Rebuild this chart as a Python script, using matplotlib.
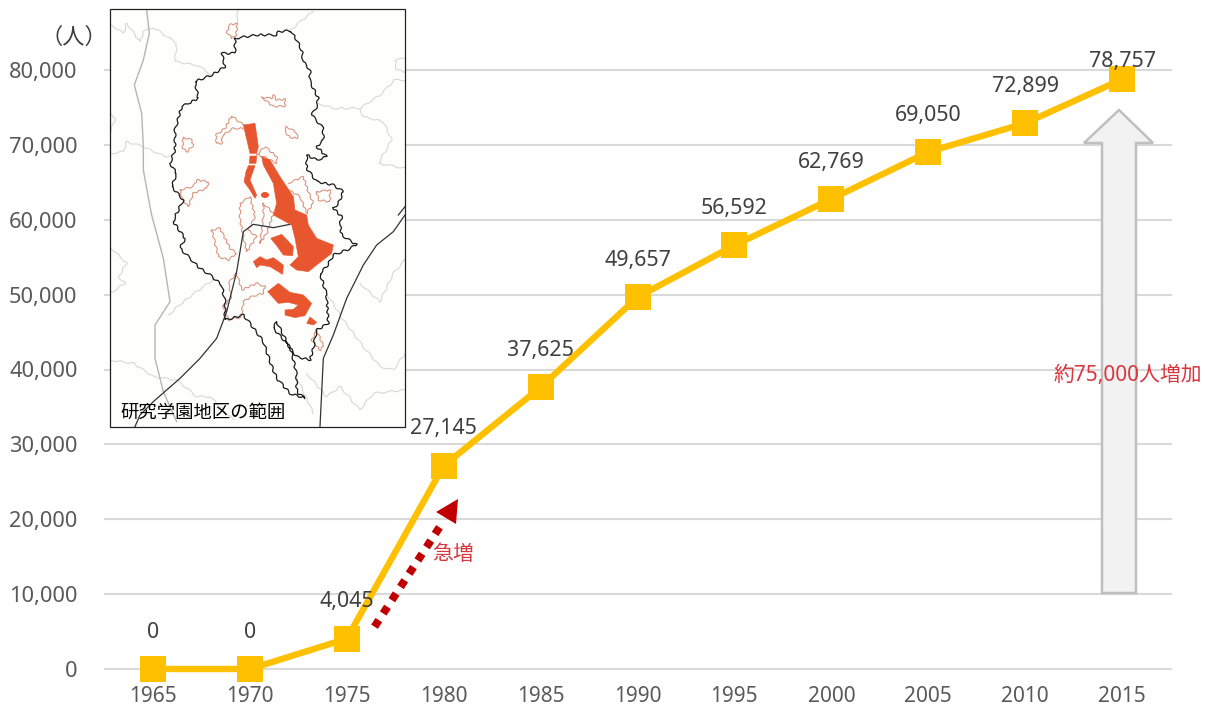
import matplotlib
matplotlib.use("Agg")
import matplotlib.pyplot as plt
from matplotlib.patches import Polygon, Rectangle, Ellipse

plt.rcParams['font.family'] = ['Noto Sans', 'Noto Sans CJK JP', 'DejaVu Sans']

years = ['1965', '1970', '1975', '1980', '1985', '1990', '1995', '2000', '2005', '2010', '2015']
population = [0, 0, 4045, 27145, 37625, 49657, 56592, 62769, 69050, 72899, 78757]
label_offsets = [26.6, 26.6, 26.6, 26.6, 26.6, 26.6, 26.6, 26.6, 26.6, 26.6, 13]
y_ticks = list(range(0, 90000, 10000))

W, H = 1205, 706
fig = plt.figure(figsize=(W / 100, H / 100), dpi=100, facecolor='white')
L, R, T, B = 104.5, 1170.5, 70, 669
ax = fig.add_axes([L / W, 1 - B / H, (R - L) / W, (B - T) / H])
x = list(range(len(years)))
ax.set_xlim(-0.5, 10.5)
ax.set_ylim(0, 80000)
ax.set_yticks(y_ticks)
ax.set_yticklabels([f'{v:,}' for v in y_ticks], fontsize=15.7, color='#595959')
ax.set_xticks(x)
ax.set_xticklabels(years, fontsize=15, color='#595959')
ax.tick_params(length=0)
ax.tick_params(axis='y', pad=19.5)
ax.tick_params(axis='x', pad=12.5)
for s in ax.spines.values():
    s.set_visible(False)
ax.grid(axis='y', color='#D9D9D9', lw=1.5, clip_on=False)
for gl in ax.get_ygridlines():
    gl.set_clip_on(False)
ax.set_axisbelow(True)
ax.plot(x, population, color='#FFC000', lw=4.6, marker='s', ms=18.7, mew=0,
        clip_on=False, solid_joinstyle='miter', zorder=3)
for xi, v, off in zip(x, population, label_offsets):
    ax.annotate(f'{v:,}', (xi, v), xytext=(0, off), textcoords='offset points', ha='center',
                va='center', fontsize=15.4, color='#404040', zorder=4, annotation_clip=False)

ov = fig.add_axes([0, 0, 1, 1], facecolor='none', zorder=5)
ov.set_xlim(0, W)
ov.set_ylim(H, 0)
ov.axis('off')


# map geometry traced in 3x crop units (origin at pixel 100,0)
def P(pts):
    return [(100 + a / 3, b / 3) for a, b in pts]


frame = Rectangle((110, 9), 295, 418, fc='#fefefd', ec='none', zorder=1)
ov.add_patch(frame)


def ml(pts, color, lw, sketch=None):
    xs, ys = zip(*P(pts))
    ln, = ov.plot(xs, ys, color=color, lw=lw, zorder=2, solid_joinstyle='round')
    ln.set_clip_path(frame)
    if sketch:
        ln.set_sketch_params(*sketch)


greys = [
    [(140, 30), (148, 100), (130, 180), (103, 255), (125, 340), (130, 440), (130, 510), (150, 620),
     (155, 645), (190, 775), (210, 905), (165, 975), (165, 1075), (190, 1175), (230, 1265)],
]
lights = [
    [(35, 75), (70, 100), (80, 70), (120, 125), (130, 95), (160, 82), (230, 130), (225, 185), (290, 195), (335, 225)],
    [(415, 30), (410, 70)],
    [(640, 35), (600, 65), (572, 92)],
    [(655, 310), (700, 325), (780, 325), (840, 285), (885, 240), (915, 240)],
    [(780, 325), (790, 350), (850, 365), (875, 420), (835, 490), (915, 505)],
    [(30, 460), (70, 455), (80, 425), (130, 440), (195, 470), (215, 465)],
    [(915, 175), (885, 180), (890, 210), (915, 215)],
    [(30, 330), (45, 360), (30, 395)],
    [(30, 740), (60, 770), (80, 790), (55, 830), (75, 850), (30, 880)],
    [(205, 945), (250, 905), (310, 860), (345, 835)],
    [(30, 1080), (100, 1090), (160, 1130), (230, 1140), (290, 1190), (330, 1190), (400, 1260)],
    [(620, 1120), (680, 1190), (720, 1160), (780, 1230), (820, 1180), (915, 1170)],
    [(680, 880), (730, 960), (790, 1040), (840, 1100), (880, 1110), (915, 1060)],
    [(780, 850), (840, 905), (880, 820), (915, 780)],
    [(590, 1130), (640, 1240)],
]
rails = [
    [(570, 673), (520, 683), (460, 673), (430, 695), (410, 815), (380, 935), (350, 1015), (300, 1075),
     (240, 1135), (160, 1205), (120, 1245), (105, 1280)],
    [(915, 645), (880, 695), (830, 735), (790, 795), (740, 895), (700, 1005), (670, 1075), (660, 1280)],
    [(915, 620), (895, 645)],
]
boundary = [
    (405, 115), (470, 105), (530, 105), (535, 95), (572, 92), (590, 120), (605, 150), (610, 185), (630, 210),
    (630, 245), (655, 295), (650, 320), (635, 345), (670, 385), (670, 420), (650, 440), (680, 470), (650, 480),
    (620, 465), (620, 505), (650, 545), (700, 555), (730, 575), (715, 610), (700, 625), (725, 650), (720, 675),
    (725, 705), (770, 735), (740, 750), (700, 765), (680, 800), (660, 820), (680, 885), (685, 970), (650, 990),
    (640, 1045), (630, 1080), (590, 1070), (560, 1030), (520, 985), (530, 965), (550, 1005), (575, 1055),
    (590, 1125), (590, 1175), (615, 1195), (570, 1180), (530, 1135), (510, 1085), (490, 1025), (450, 970),
    (430, 945), (375, 960), (375, 905), (365, 855), (330, 825), (300, 805), (240, 745), (255, 715), (220, 665),
    (225, 650), (250, 600), (215, 560), (230, 520), (210, 490), (225, 450), (225, 390), (245, 320), (295, 295),
    (285, 245), (335, 225), (375, 200), (365, 160), (405, 160), (405, 115),
]
outlines = [
    [(395, 115), (380, 95), (392, 72), (412, 72), (408, 105), (395, 115)],
    [(485, 292), (515, 295), (520, 285), (530, 300), (555, 298), (555, 318), (520, 320), (485, 292)],
    [(430, 375), (395, 347), (375, 385), (348, 405), (350, 430), (365, 430), (368, 405), (400, 385), (430, 385)],
    [(560, 380), (590, 398), (592, 415), (570, 412), (555, 395), (560, 380)],
    [(250, 412), (275, 420), (280, 435), (262, 455), (248, 445), (250, 412)],
    [(240, 570), (280, 560), (290, 540), (325, 545), (320, 565), (280, 580), (265, 620), (245, 595), (240, 570)],
    [(470, 465), (495, 440), (530, 470), (530, 490), (490, 470), (470, 465)],
    [(565, 550), (610, 530), (625, 575), (640, 610), (620, 640), (600, 590), (565, 570)],
    [(650, 575), (690, 570), (690, 605), (655, 600), (650, 575)],
    [(420, 610), (450, 590), (465, 650), (445, 690), (470, 710), (440, 755), (420, 660), (420, 610)],
    [(335, 690), (360, 685), (390, 745), (410, 760), (385, 780), (355, 770), (335, 690)],
    [(490, 610), (520, 640), (500, 700), (480, 730), (490, 650), (490, 610)],
    [(410, 820), (425, 870), (470, 850), (495, 860), (490, 880), (455, 890), (430, 905), (425, 950),
     (385, 960), (370, 920), (395, 890), (385, 850), (410, 820)],
    [(650, 990), (670, 1040), (660, 1050), (635, 1020), (650, 990)],
]
solid = [
    [(430, 375), (465, 370), (475, 440), (470, 460), (450, 460)],
    [(450, 468), (470, 468), (468, 490), (448, 490)],
    [(445, 497), (465, 497), (450, 540), (470, 585), (465, 595), (450, 570), (432, 545), (438, 515)],
    [(485, 470), (510, 480), (540, 530), (580, 590), (585, 630), (620, 645), (625, 675), (650, 715), (700, 735),
     (695, 760), (650, 795), (625, 815), (590, 810), (570, 795), (595, 770), (585, 715), (575, 675), (520, 645),
     (530, 610), (520, 550), (490, 495)],
    [(512, 715), (545, 703), (580, 740), (578, 767), (550, 765), (530, 737)],
    [(460, 785), (480, 770), (500, 780), (520, 773), (550, 795), (548, 823), (510, 800), (480, 795), (470, 803)],
    [(503, 875), (535, 850), (570, 877), (610, 885), (635, 910), (615, 947), (585, 953), (555, 945), (555, 930),
     (580, 928), (595, 915), (565, 907), (535, 910)],
    [(620, 970), (630, 951), (650, 967), (640, 975)],
]
for g in lights:
    ml(g, '#d8d8d8', 0.8, (0.8, 14, 2))
for g in greys:
    ml(g, '#b5b5b5', 1.0)
for g in outlines:
    ml(g, '#d98f78', 0.75, (0.8, 8, 2))
ml(boundary, '#1a1a1a', 0.9, (1.0, 10, 2))
for g in rails:
    ml(g, '#333333', 0.9)
for g in solid:
    ov.add_patch(Polygon(P(g), closed=True, fc='#E8562F', ec='#E8562F', lw=0.4, zorder=3))
ov.add_patch(Ellipse((100 + 495 / 3, 585 / 3), 8, 6, fc='#E8562F', ec='none', zorder=3))
ov.add_patch(Rectangle((110, 9), 295, 418, fc='none', ec='#222222', lw=0.9, zorder=4))
ov.text(120, 413, '研究学園地区の範囲', fontsize=13.2, color='black', va='center', ha='left', zorder=5)

ov.text(73.5, 38, '（人）', fontsize=16, color='#404040', ha='center', va='center')

# large grey arrow
ov.add_patch(Polygon([(1119, 110), (1153, 143), (1136, 143), (1136, 593), (1102, 593), (1102, 143), (1084, 143)],
                     closed=True, fc='#F2F2F2', ec='#BFBFBF', lw=1.8, joinstyle='miter', zorder=2))
ov.text(1127.5, 376, '約75,000人増加', fontsize=15, color='#D9363E', ha='center', va='center', zorder=6)

# dotted red arrow
ov.plot([374.5, 440.3], [626.7, 526], color='#C00000', lw=5.7, ls=(0, (1, 1)), dash_capstyle='butt', zorder=3)
ov.add_patch(Polygon([(458, 499), (436, 512), (456, 524)], closed=True, fc='#C00000', ec='none', zorder=3))
ov.text(453, 554, '急増', fontsize=15, color='#D9363E', ha='center', va='center', zorder=6)

fig.savefig('out.png', dpi=100)
